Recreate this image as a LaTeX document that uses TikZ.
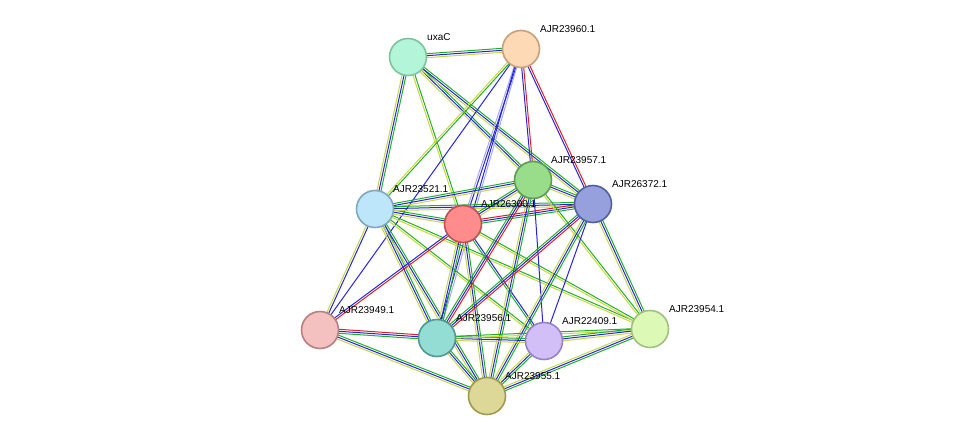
\documentclass[tikz,border=0pt]{standalone}
\usepackage{fontspec}
\setmainfont{Liberation Sans}
\usetikzlibrary{calc}
\definecolor{eg}{HTML}{22B022}
\definecolor{eb}{HTML}{2424E0}
\definecolor{ey}{HTML}{C8D840}
\definecolor{er}{HTML}{E02020}
\definecolor{el}{HTML}{A8A8F0}
\definecolor{fux}{HTML}{B3F5D8}\definecolor{dux}{HTML}{7FC49C}
\definecolor{f60}{HTML}{FDD9B5}\definecolor{d60}{HTML}{C8A07A}
\definecolor{f57}{HTML}{99DD8A}\definecolor{d57}{HTML}{5E9C52}
\definecolor{f72}{HTML}{96A0DD}\definecolor{d72}{HTML}{505FA0}
\definecolor{f21}{HTML}{BDE6FA}\definecolor{d21}{HTML}{7FA8C0}
\definecolor{f00}{HTML}{FF8C8C}\definecolor{d00}{HTML}{C05050}
\definecolor{f49}{HTML}{F5C0C0}\definecolor{d49}{HTML}{B88080}
\definecolor{f56}{HTML}{93DDD5}\definecolor{d56}{HTML}{4F9990}
\definecolor{f09}{HTML}{D3BFF8}\definecolor{d09}{HTML}{9880C8}
\definecolor{f54}{HTML}{DCFAB6}\definecolor{d54}{HTML}{A0C080}
\definecolor{f55}{HTML}{DDD897}\definecolor{d55}{HTML}{A09A50}
\tikzset{
  prot/.style={circle,draw,line width=1.6pt,minimum size=37pt,inner sep=0pt},
  lab/.style={anchor=south west,inner sep=0pt,font=\fontsize{10}{11}\selectfont},
  ln/.style={line width=1pt}
}
% three parallel strands between two nodes
\newcommand{\tri}[5]{%
  \draw[ln,#3] ($(#1)!2pt!90:(#2)$) -- ($(#2)!2pt!-90:(#1)$);
  \draw[ln,#4] (#1) -- (#2);
  \draw[ln,#5] ($(#1)!-2pt!90:(#2)$) -- ($(#2)!-2pt!-90:(#1)$);}
\newcommand{\two}[4]{%
  \draw[ln,#3] ($(#1)!1pt!90:(#2)$) -- ($(#2)!1pt!-90:(#1)$);
  \draw[ln,#4] ($(#1)!-1pt!90:(#2)$) -- ($(#2)!-1pt!-90:(#1)$);}
\begin{document}
\begin{tikzpicture}[x=1pt,y=-1pt]
\useasboundingbox (0,0) rectangle (976,442);
% coordinates of proteins
\coordinate (ux) at (408,57);
\coordinate (p60) at (521,49);
\coordinate (p57) at (533,180);
\coordinate (p72) at (593,204);
\coordinate (p21) at (375,209);
\coordinate (p00) at (463,224);
\coordinate (p49) at (320,330);
\coordinate (p56) at (437,338);
\coordinate (p09) at (544,341);
\coordinate (p54) at (650,329);
\coordinate (p55) at (487,396);
% edges
\tri{ux}{p60}{eg}{eb}{ey}
\tri{ux}{p21}{eg}{eb}{ey}
\two{ux}{p00}{eg}{ey}
\tri{ux}{p57}{eg}{eb}{ey}
\tri{ux}{p72}{eg}{eb}{ey}
\two{p60}{p57}{er}{eb}
\two{p60}{p72}{er}{eb}
\two{p60}{p00}{eb}{el}
\two{p60}{p21}{eg}{ey}
\draw[ln,eb] (p60) -- (p49);
\two{p60}{p56}{el}{eb}
\tri{p21}{p00}{eg}{eb}{ey}
\tri{p21}{p57}{eg}{eb}{ey}
\tri{p21}{p72}{eg}{eb}{ey}
\two{p21}{p49}{eb}{ey}
\tri{p21}{p56}{eg}{eb}{ey}
\tri{p21}{p55}{eg}{eb}{ey}
\two{p21}{p09}{eg}{ey}
\two{p21}{p54}{eg}{ey}
\tri{p00}{p57}{eg}{eb}{ey}
\tri{p00}{p72}{er}{eb}{eg}
\two{p00}{p49}{er}{eb}
\tri{p00}{p56}{eg}{eb}{ey}
\two{p00}{p09}{eb}{eg}
\tri{p00}{p55}{eg}{eb}{ey}
\two{p00}{p54}{eg}{ey}
\tri{p57}{p72}{eg}{eb}{ey}
\tri{p57}{p56}{er}{eb}{eg}
\draw[ln,eb] (p57) -- (p09);
\tri{p57}{p55}{eg}{eb}{ey}
\two{p57}{p54}{eg}{ey}
\tri{p72}{p56}{er}{eb}{eg}
\draw[ln,eb] (p72) -- (p09);
\tri{p72}{p55}{eg}{eb}{ey}
\tri{p72}{p54}{eg}{eb}{ey}
\tri{p49}{p56}{er}{eb}{eg}
\tri{p49}{p55}{eg}{eb}{ey}
\tri{p56}{p09}{eg}{eb}{ey}
\tri{p56}{p55}{eg}{eb}{ey}
\two{p56}{p54}{eg}{ey}
\tri{p09}{p55}{eg}{eb}{ey}
\tri{p09}{p54}{eg}{eb}{ey}
\tri{p54}{p55}{eg}{eb}{ey}
% proteins
\node[prot,fill=fux,draw=dux] (nux) at (ux) {};
\node[prot,fill=f60,draw=d60] (n60) at (p60) {};
\node[prot,fill=f57,draw=d57] (n57) at (p57) {};
\node[prot,fill=f72,draw=d72] (n72) at (p72) {};
\node[prot,fill=f21,draw=d21] (n21) at (p21) {};
\node[prot,fill=f00,draw=d00] (n00) at (p00) {};
\node[prot,fill=f49,draw=d49] (n49) at (p49) {};
\node[prot,fill=f56,draw=d56] (n56) at (p56) {};
\node[prot,fill=f09,draw=d09] (n09) at (p09) {};
\node[prot,fill=f54,draw=d54] (n54) at (p54) {};
\node[prot,fill=f55,draw=d55] (n55) at (p55) {};
% labels
\node[lab] at (427,41) {uxaC};
\node[lab] at (540,33) {AJR23960.1};
\node[lab] at (551,164) {AJR23957.1};
\node[lab] at (612,188) {AJR26372.1};
\node[lab] at (393,193) {AJR23521.1};
\node[lab] at (481,208) {AJR26300.1};
\node[lab] at (339,314) {AJR23949.1};
\node[lab] at (456,322) {AJR23956.1};
\node[lab] at (562,325) {AJR22409.1};
\node[lab] at (669,313) {AJR23954.1};
\node[lab] at (505,380) {AJR23955.1};
\end{tikzpicture}
\end{document}
